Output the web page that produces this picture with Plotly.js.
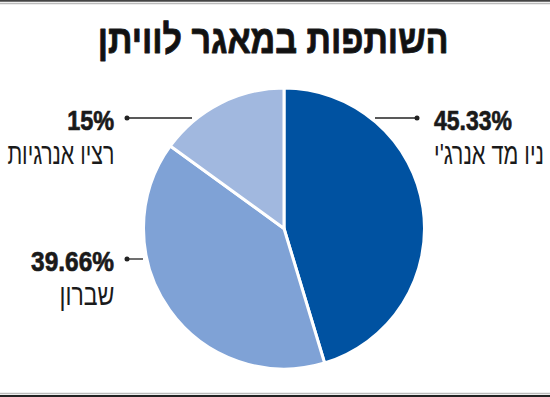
<!DOCTYPE html>
<html><head><meta charset="utf-8">
<script src="https://cdn.plot.ly/plotly-3.0.1.min.js"></script>
<style>html,body{margin:0;padding:0;background:#fff;}#chart{width:550px;height:397px;}</style>
</head><body><div id="chart"></div>
<script>
const labels = ["ניו מד אנרג'י", "שברון", "רציו אנרגיות"];
const values = [45.33, 39.66, 15];
const pctText = ["45.33%", "39.66%", "15%"];
const colors = ["#0052a1", "#7fa2d6", "#a1b8df"];
const titleText = "השותפות במאגר לוויתן";

const W = 550, H = 397;
const cx = 284, cy = 228.5, R = 140.5;
const px = x => x / W;
const py = y => 1 - y / H;

const numFont = {family: "Liberation Sans, Arial, sans-serif", size: 28, color: "#1a1a1a", weight: 700};
const hebFont = {family: "Liberation Sans, Arial, sans-serif", size: 30, color: "#1a1a1a"};

// label placement: [index, anchorX, yPct, yName, xanchor, lineX0, lineX1, pctWidth, nameWidth]
const place = [
  [0, 432, 120, 153, "left", 375, 417, 78, 110],
  [1, 116, 261, 294, "right", 127, 143, 83, 55],
  [2, 116, 120, 153, "right", 127, 192, 47, 107]
];

const annotations = [{
  text: "<b>" + titleText + "</b>", x: px(272.5), y: py(39), xref: "paper", yref: "paper",
  showarrow: false, xanchor: "center", yanchor: "middle",
  font: {family: "Liberation Sans, Arial, sans-serif", size: 40, color: "#111"}
}];
const targetW = [351];
const anchors = ["center"];
const strokes = [0.9];
const shapes = [
  {type: "line", xref: "paper", yref: "paper", x0: 0, x1: 1, y0: py(0.8), y1: py(0.8), line: {color: "#444", width: 2}},
  {type: "line", xref: "paper", yref: "paper", x0: 0, x1: 1, y0: py(3.5), y1: py(3.5), line: {color: "#bbb", width: 1.5}},
  {type: "line", xref: "paper", yref: "paper", x0: 0, x1: 1, y0: py(393.5), y1: py(393.5), line: {color: "#bbb", width: 1.5}},
  {type: "line", xref: "paper", yref: "paper", x0: 0, x1: 1, y0: py(396), y1: py(396), line: {color: "#222", width: 2}}
];
place.forEach(p => {
  const [i, ax, yp, yn, xa, l0, l1, pw, nw] = p;
  annotations.push({text: pctText[i], x: px(ax), y: py(yp), xref: "paper", yref: "paper", showarrow: false,
    xanchor: xa, yanchor: "middle", font: numFont});
  targetW.push(pw); anchors.push(xa); strokes.push(0.7);
  annotations.push({text: labels[i], x: px(ax), y: py(yn), xref: "paper", yref: "paper", showarrow: false,
    xanchor: xa, yanchor: "middle", font: hebFont});
  targetW.push(nw); anchors.push(xa); strokes.push(0);
  const ly = yp - 2;
  shapes.push({type: "line", xref: "paper", yref: "paper", x0: px(l0), x1: px(l1), y0: py(ly), y1: py(ly), line: {color: "#222", width: 1.3}});
  const dx = (xa === "left") ? l1 : l0;
  shapes.push({type: "circle", xref: "paper", yref: "paper", x0: px(dx - 2.5), x1: px(dx + 2.5), y0: py(ly - 2.5), y1: py(ly + 2.5), fillcolor: "#222", line: {width: 0}});
});

const data = [{
  type: "pie", labels: labels, values: values, sort: false, direction: "clockwise", rotation: 0,
  marker: {colors: colors, line: {color: "#fff", width: 3}},
  textinfo: "none", hoverinfo: "none",
  domain: {x: [px(cx - R), px(cx + R)], y: [py(cy + R), py(cy - R)]}
}];
const layout = {
  width: W, height: H, margin: {l: 0, r: 0, t: 0, b: 0}, showlegend: false,
  paper_bgcolor: "#fff", annotations: annotations, shapes: shapes
};
Plotly.newPlot("chart", data, layout, {staticPlot: true}).then(gd => {
  // condense annotation text horizontally to mimic the narrow newspaper typeface
  const texts = gd.querySelectorAll("g.annotation text.annotation-text");
  texts.forEach((t, k) => {
    if (k >= targetW.length) return;
    const bb = t.getBBox();
    const s = Math.min(1, targetW[k] / bb.width);
    const a = anchors[k];
    const ox = a === "left" ? bb.x : (a === "right" ? bb.x + bb.width : bb.x + bb.width / 2);
    const prev = t.getAttribute("transform") || "";
    t.setAttribute("transform", prev + ` translate(${ox},0) scale(${s},1) translate(${-ox},0)`);
    if (strokes[k] > 0) {
      t.style.stroke = "#1a1a1a";
      t.style.strokeWidth = strokes[k] + "px";
      t.style.strokeLinejoin = "round";
    }
  });
});
</script></body></html>
